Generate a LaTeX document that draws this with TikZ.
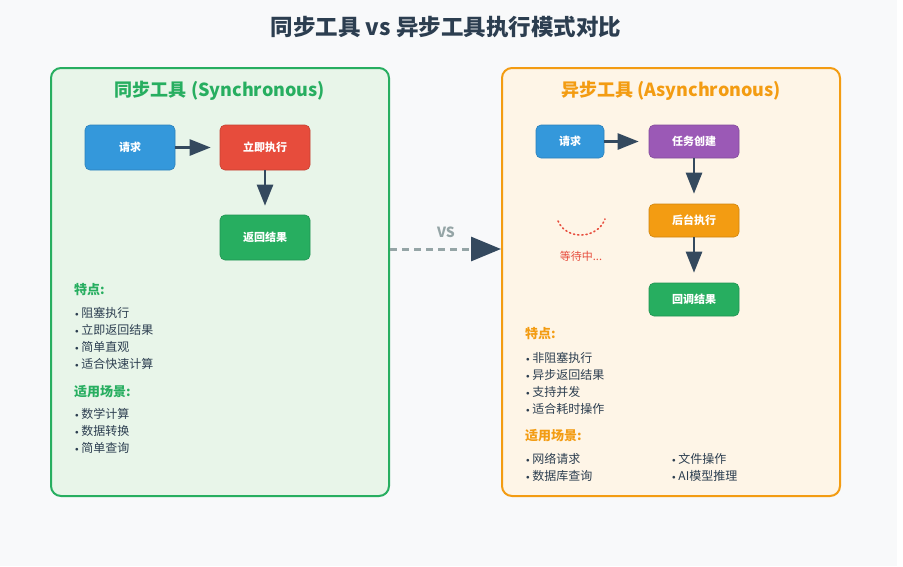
\documentclass[tikz,border=0pt]{standalone}
\usepackage{fontspec}
\setmainfont{Noto Sans CJK SC}
\usepackage{xcolor}
\usetikzlibrary{arrows.meta,positioning}
\definecolor{pagebg}{HTML}{F8F9FA}
\definecolor{ink}{HTML}{2C3E50}
\definecolor{arrowc}{HTML}{34495E}
\definecolor{syncc}{HTML}{27AE60}
\definecolor{syncbg}{HTML}{E8F5E9}
\definecolor{asyncc}{HTML}{F39C12}
\definecolor{asyncbg}{HTML}{FEF5E7}
\definecolor{reqc}{HTML}{3498DB}
\definecolor{execc}{HTML}{E74C3C}
\definecolor{taskc}{HTML}{9B59B6}
\definecolor{vsc}{HTML}{95A5A6}
\tikzset{panel/.style={draw=#1,line width=2pt,rounded corners=10pt,minimum width=338pt,minimum height=428pt,inner sep=0pt}}
\tikzset{stepbox/.style={fill=#1,draw=#1!85!black,line width=0.6pt,rounded corners=5pt,text=white,font=\bfseries\fontsize{11}{13}\selectfont,inner sep=0pt}}
\tikzset{flow/.style={arrowc,line width=2.6pt,shorten >=9pt,-{Triangle[length=21pt,width=16pt]}}}
\tikzset{head/.style={font=\bfseries\fontsize{13}{15}\selectfont,text=#1,anchor=west,inner sep=0pt}}
\tikzset{items/.style={font=\fontsize{12}{17}\selectfont,text=ink,anchor=north west,align=left,inner sep=0pt}}
\newcommand{\bul}{\raisebox{0.2ex}{\scalebox{0.6}{$\bullet$}}\ }

\begin{document}
\begin{tikzpicture}[x=1pt,y=-1pt]
    \useasboundingbox (0,0) rectangle (903,566);
    \fill[pagebg] (0,0) rectangle (897,566);
    \fill[white] (897,0) rectangle (903,566);

    \node[font=\bfseries\fontsize{22.5}{26}\selectfont,text=ink] (title) at (446,27) {同步工具 vs 异步工具执行模式对比};

    \node[panel=syncc,fill=syncbg] (sync) at (220,282) {};
    \node[panel=asyncc,fill=asyncbg] (async) at (671,282) {};

    \node[font=\bfseries\fontsize{18}{21}\selectfont,text=syncc] (synctitle) at (220,91) {同步工具 (Synchronous)};
    \node[font=\bfseries\fontsize{18}{21}\selectfont,text=asyncc] (asynctitle) at (671,91) {异步工具 (Asynchronous)};

    \node[stepbox=reqc,minimum width=90pt,minimum height=45pt] (req1) at (130,147.5) {请求};
    \node[stepbox=execc,minimum width=90pt,minimum height=45pt] (exec1) at (265,147.5) {立即执行};
    \node[stepbox=syncc,minimum width=90pt,minimum height=45pt] (ret1) at (265,237.5) {返回结果};

    \draw[flow] (req1) -- (exec1);
    \draw[flow] (exec1) -- (ret1);

    \node[head=syncc] (feat1) at (74,290) {特点:};
    \node[items] (featlist1) at (75,307) {\bul 阻塞执行\\\bul 立即返回结果\\\bul 简单直观\\\bul 适合快速计算};
    \node[head=syncc] (use1) at (74,392) {适用场景:};
    \node[items] (uselist1) at (75,408) {\bul 数学计算\\\bul 数据转换\\\bul 简单查询};

    \node[stepbox=reqc,minimum width=68pt,minimum height=33pt] (req2) at (570,141.5) {请求};
    \node[stepbox=taskc,minimum width=90pt,minimum height=33pt] (task2) at (694,141.5) {任务创建};
    \node[stepbox=asyncc,minimum width=90pt,minimum height=33pt] (exec2) at (694,220.5) {后台执行};
    \node[stepbox=syncc,minimum width=90pt,minimum height=33pt] (ret2) at (694,299.5) {回调结果};

    \draw[flow,shorten >=10pt] (req2) -- (task2);
    \draw[flow,shorten >=10pt] (task2) -- (exec2);
    \draw[flow,shorten >=10pt] (exec2) -- (ret2);

    \draw[execc,line width=1.6pt,line cap=round,dash pattern=on 1.2pt off 3pt] (558,221) .. controls (566,240) and (597,240) .. (605,219);
    \node[text=execc,font=\fontsize{11}{13}\selectfont] (wait) at (581,256) {等待中...};

    \node[head=asyncc] (feat2) at (525,334) {特点:};
    \node[items] (featlist2) at (526,352) {\bul 非阻塞执行\\\bul 异步返回结果\\\bul 支持并发\\\bul 适合耗时操作};
    \node[head=asyncc] (use2) at (525,436) {适用场景:};
    \node[items] (uselist2) at (526,453) {\bul 网络请求\\\bul 数据库查询};
    \node[items] (uselist3) at (672,453) {\bul 文件操作\\\bul AI模型推理};

    \draw[vsc,line width=3pt,dash pattern=on 7pt off 5pt,-{Triangle[length=30pt,width=24pt,color=arrowc]}] ([yshift=33]sync.east) -- ([yshift=33]async.west);
    \node[font=\bfseries\fontsize{14}{16}\selectfont,text=vsc] (vs) at (446,232) {VS};
\end{tikzpicture}
\end{document}
